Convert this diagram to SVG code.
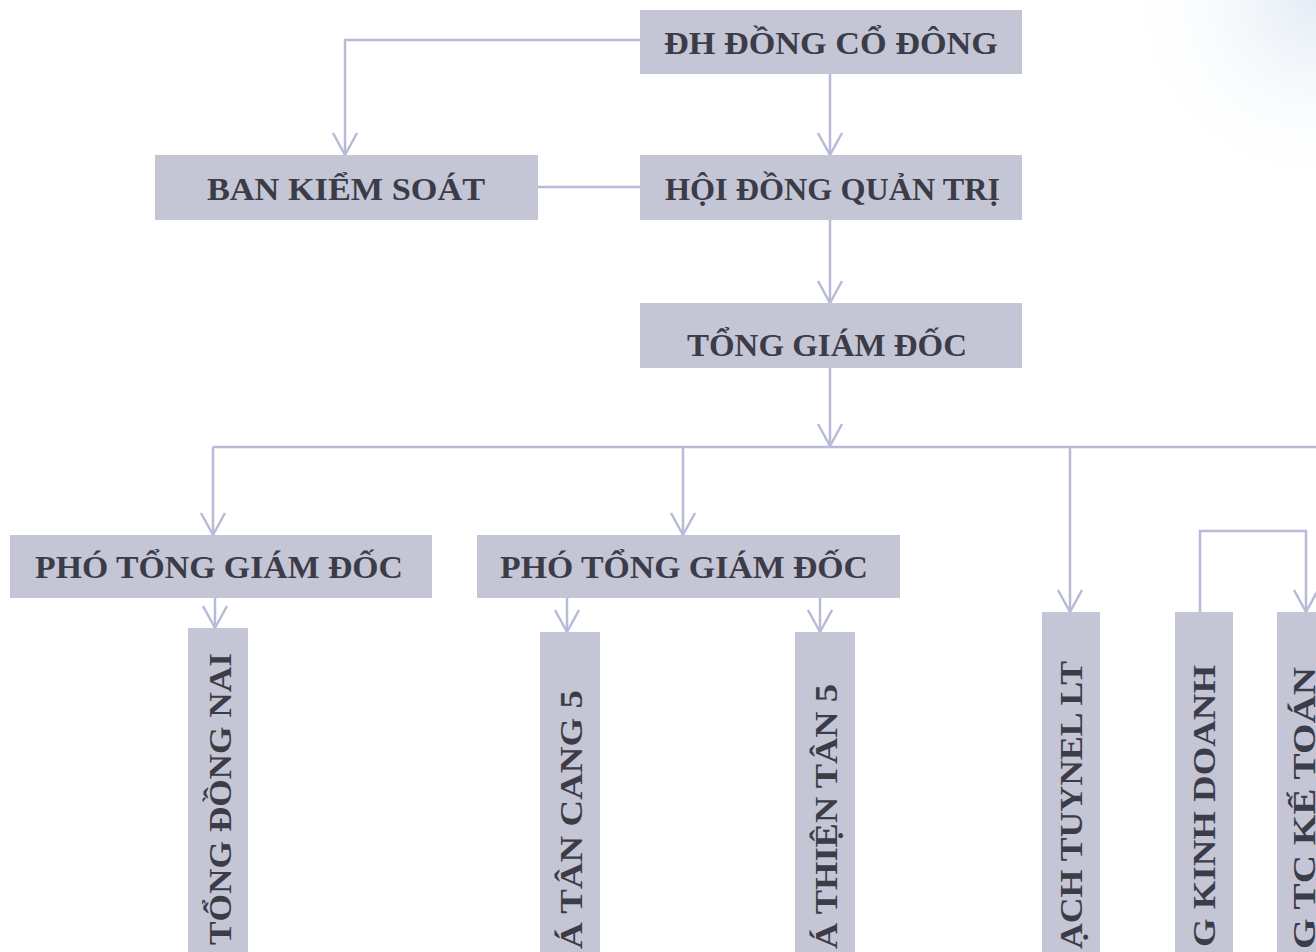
<svg xmlns="http://www.w3.org/2000/svg" width="1316" height="952" viewBox="0 0 1316 952">
<style>
.box{fill:#c5c6d5;}
.t{font-family:"Liberation Serif","Times New Roman",serif;font-weight:bold;font-size:32px;fill:#3c3c48;}
.c{fill:none;stroke:#b9bad8;stroke-width:2.5;}
</style>
<defs>
<marker id="ah" markerUnits="userSpaceOnUse" markerWidth="30" markerHeight="30" viewBox="-26 -14 30 28" refX="0" refY="0" orient="auto">
<path d="M-22,-12 L0,0 L-22,12" fill="none" stroke="#b9bad8" stroke-width="2.5"/>
</marker>
<radialGradient id="glare" cx="1316" cy="0" r="200" gradientUnits="userSpaceOnUse">
<stop offset="0" stop-color="#e3ecf5"/>
<stop offset="1" stop-color="#ffffff" stop-opacity="0"/>
</radialGradient>
</defs>
<rect width="1316" height="952" fill="#ffffff"/>
<rect x="1100" y="0" width="216" height="200" fill="url(#glare)"/>

<g id="connectors">
<path class="c" d="M640,40 H345 V155" marker-end="url(#ah)"/>
<path class="c" d="M830,74 V155" marker-end="url(#ah)"/>
<path class="c" d="M538,187 H640"/>
<path class="c" d="M830,220 V303" marker-end="url(#ah)"/>
<path class="c" d="M830,368 V446" marker-end="url(#ah)"/>
<path class="c" d="M213,447 H1316"/>
<path class="c" d="M213,447 V535" marker-end="url(#ah)"/>
<path class="c" d="M683,447 V535" marker-end="url(#ah)"/>
<path class="c" d="M1070,447 V612" marker-end="url(#ah)"/>
<path class="c" d="M215,598 V628" marker-end="url(#ah)"/>
<path class="c" d="M567,598 V632" marker-end="url(#ah)"/>
<path class="c" d="M820,598 V632" marker-end="url(#ah)"/>
<path class="c" d="M1200,612 V531 H1306 V612" marker-start="url(#ah)" marker-end="url(#ah)"/>
</g>

<g id="n-dhdcd">
<rect class="box" x="640" y="10" width="382" height="64"/>
<text class="t" x="664" y="54" textLength="334" lengthAdjust="spacingAndGlyphs">ĐH ĐỒNG CỔ ĐÔNG</text>
</g>
<g id="n-bks">
<rect class="box" x="155" y="155" width="383" height="65"/>
<text class="t" x="207" y="200" textLength="278" lengthAdjust="spacingAndGlyphs">BAN KIỂM SOÁT</text>
</g>
<g id="n-hdqt">
<rect class="box" x="640" y="155" width="382" height="65"/>
<text class="t" x="665" y="200" textLength="335" lengthAdjust="spacingAndGlyphs">HỘI ĐỒNG QUẢN TRỊ</text>
</g>
<g id="n-tgd">
<rect class="box" x="640" y="303" width="382" height="65"/>
<text class="t" x="687" y="356" textLength="280" lengthAdjust="spacingAndGlyphs">TỔNG GIÁM ĐỐC</text>
</g>
<g id="n-ptgd1">
<rect class="box" x="10" y="535" width="422" height="63"/>
<text class="t" x="35" y="578" textLength="368" lengthAdjust="spacingAndGlyphs">PHÓ TỔNG GIÁM ĐỐC</text>
</g>
<g id="n-ptgd2">
<rect class="box" x="477" y="535" width="423" height="63"/>
<text class="t" x="500" y="578" textLength="368" lengthAdjust="spacingAndGlyphs">PHÓ TỔNG GIÁM ĐỐC</text>
</g>

<g id="n-dongnai">
<rect class="box" x="188" y="628" width="60" height="324"/>
<text class="t" transform="translate(231,945) rotate(-90)" x="0" y="0" textLength="292" lengthAdjust="spacingAndGlyphs">TỔNG ĐỒNG NAI</text>
</g>
<g id="n-tancang">
<rect class="box" x="540" y="632" width="60" height="320"/>
<text class="t" transform="translate(582,949) rotate(-90)" x="0" y="0" textLength="259" lengthAdjust="spacingAndGlyphs">Á TÂN CANG 5</text>
</g>
<g id="n-thientan">
<rect class="box" x="795" y="632" width="60" height="320"/>
<text class="t" transform="translate(837,949) rotate(-90)" x="0" y="0" textLength="265" lengthAdjust="spacingAndGlyphs">Á THIỆN TÂN 5</text>
</g>
<g id="n-tuynel">
<rect class="box" x="1042" y="612" width="58" height="340"/>
<text class="t" transform="translate(1082,949) rotate(-90)" x="0" y="0" textLength="288" lengthAdjust="spacingAndGlyphs">ẠCH TUYNEL LT</text>
</g>
<g id="n-kinhdoanh">
<rect class="box" x="1175" y="612" width="58" height="340"/>
<text class="t" transform="translate(1215,947) rotate(-90)" x="0" y="0" textLength="282" lengthAdjust="spacingAndGlyphs">G KINH DOANH</text>
</g>
<g id="n-ketoan">
<rect class="box" x="1277" y="612" width="58" height="340"/>
<text class="t" transform="translate(1315,949) rotate(-90)" x="0" y="0" textLength="282" lengthAdjust="spacingAndGlyphs">G TC KẾ TOÁN</text>
</g>
</svg>
